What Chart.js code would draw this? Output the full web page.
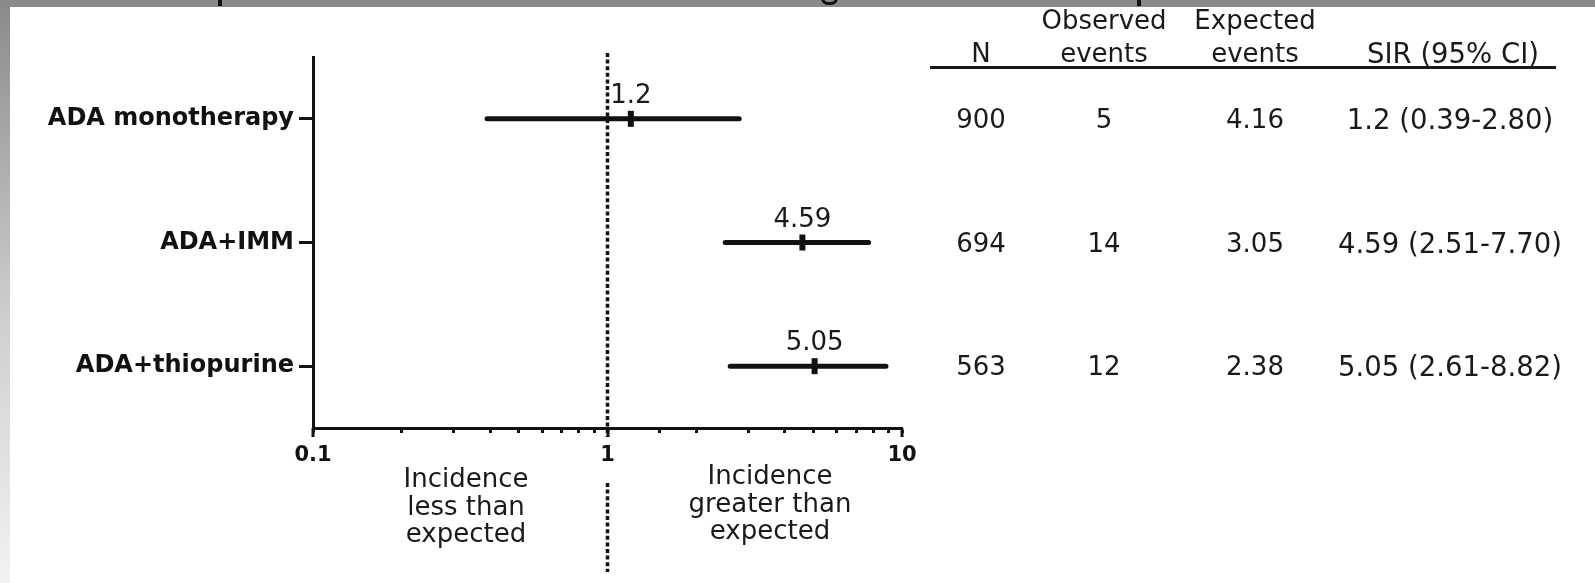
<!DOCTYPE html>
<html>
<head>
<meta charset="utf-8">
<script src="https://cdn.jsdelivr.net/npm/chart.js@4.4.1/dist/chart.umd.min.js"></script>
<style>
html,body{margin:0;padding:0;background:#fff;}
#wrap{position:relative;width:1595px;height:583px;overflow:hidden;background:#fff;font-family:"DejaVu Sans",sans-serif;color:#1a1a1a;}
#c{position:absolute;left:0;top:0;}
#band{position:absolute;left:0;top:0;width:1595px;height:7px;background:#8a8a8a;}
#strip{position:absolute;left:0;top:0;width:10px;height:583px;background:linear-gradient(#8a8a8a,#cfcfcf 55%,#f2f2f2);}
.frag{position:absolute;background:#111;}
.t{position:absolute;font-size:26px;line-height:30px;height:30px;white-space:nowrap;text-align:center;transform:translateX(-50%);}
.t.w{font-size:27.5px;}
#rule{position:absolute;left:930px;top:66px;width:626px;height:3px;background:#1a1a1a;}
</style>
</head>
<body>
<div id="wrap">
  <canvas id="c" width="1595" height="583"></canvas>
  <div id="band"></div>
  <div id="strip"></div>
  <div class="frag" style="left:218px;top:0;width:4px;height:6px;"></div>
  <div class="frag" style="left:1137px;top:0;width:4px;height:6px;"></div>
  <div style="position:absolute;left:821px;top:-6px;width:11px;height:8px;border:3px solid #111;border-top:none;border-radius:0 0 7px 7px;"></div>
  <div id="rule"></div>
  <div id="table"></div>
</div>
<script>
// ---- data ----
const categories = ['ADA monotherapy', 'ADA+IMM', 'ADA+thiopurine'];
const sir = [1.2, 4.59, 5.05];
const ciLow = [0.39, 2.51, 2.61];
const ciHigh = [2.80, 7.70, 8.82];
const sirLabels = ['1.2', '4.59', '5.05'];
const nPatients = ['900', '694', '563'];
const observedEvents = ['5', '14', '12'];
const expectedEvents = ['4.16', '3.05', '2.38'];
const sirCI = ['1.2 (0.39-2.80)', '4.59 (2.51-7.70)', '5.05 (2.61-8.82)'];
const xTickValues = [0.1, 1, 10];
const xTickLabels = ['0.1', '1', '10'];
const xMin = 0.1, xMax = 10, refValue = 1;
const headerLine1 = ['', 'Observed', 'Expected', ''];
const headerLine2 = ['N', 'events', 'events', 'SIR (95% CI)'];
const noteLeft = ['Incidence', 'less than', 'expected'];
const noteRight = ['Incidence', 'greater than', 'expected'];

const INK = '#111';

function majorIndex(v) {
  for (let i = 0; i < xTickValues.length; i++) {
    if (Math.abs(Math.log10(v) - Math.log10(xTickValues[i])) < 1e-6) return i;
  }
  return -1;
}

const datasets = categories.map((c, i) => ({
  type: 'line',
  data: [{x: ciLow[i], y: c}, {x: ciHigh[i], y: c}],
  borderColor: INK,
  borderWidth: 5,
  borderCapStyle: 'round',
  pointRadius: 0,
  pointHoverRadius: 0,
  showLine: true,
  fill: false
}));
datasets.push({
  type: 'scatter',
  data: categories.map((c, i) => ({x: sir[i], y: c})),
  pointStyle: 'line',
  rotation: 90,
  pointRadius: 8,
  pointHoverRadius: 8,
  borderWidth: 6,
  borderColor: INK,
  backgroundColor: INK,
  showLine: false
});

const refLinePlugin = {
  id: 'refLine',
  beforeDatasetsDraw(chart) {
    const ctx = chart.ctx, a = chart.chartArea;
    const x = chart.scales.x.getPixelForValue(refValue);
    ctx.save();
    ctx.strokeStyle = INK;
    ctx.lineWidth = 3.5;
    ctx.setLineDash([4, 2.6]);
    ctx.beginPath();
    ctx.moveTo(x, a.top - 4);
    ctx.lineTo(x, a.bottom + 9);
    ctx.moveTo(x, a.bottom + 55);
    ctx.lineTo(x, a.bottom + 144);
    ctx.stroke();
    ctx.restore();
  }
};

const extrasPlugin = {
  id: 'extras',
  afterDraw(chart) {
    const ctx = chart.ctx, a = chart.chartArea, xs = chart.scales.x;
    ctx.save();
    ctx.strokeStyle = INK;
    ctx.lineWidth = 3;
    xTickValues.forEach(v => {
      const px = Math.round(xs.getPixelForValue(v));
      ctx.beginPath();
      ctx.moveTo(px, a.bottom);
      ctx.lineTo(px, a.bottom + 9);
      ctx.stroke();
    });
    const meta = chart.getDatasetMeta(categories.length);
    ctx.fillStyle = '#1a1a1a';
    ctx.font = '26px "DejaVu Sans"';
    ctx.textAlign = 'center';
    ctx.textBaseline = 'alphabetic';
    meta.data.forEach((pt, i) => {
      ctx.fillText(sirLabels[i], pt.x, pt.y - 16);
    });
    ctx.restore();
  }
};

const chart = new Chart(document.getElementById('c'), {
  type: 'scatter',
  data: {datasets},
  options: {
    responsive: false,
    animation: false,
    events: [],
    layout: {padding: {left: 0, top: 57, right: 693, bottom: 0}},
    plugins: {legend: {display: false}, tooltip: {enabled: false}},
    scales: {
      x: {
        type: 'logarithmic',
        position: 'bottom',
        min: xMin,
        max: xMax,
        border: {display: true, color: INK, width: 3},
        grid: {display: true, drawOnChartArea: false, drawTicks: true, tickLength: 5, tickWidth: 3, tickColor: INK},
        ticks: {
          autoSkip: false,
          maxRotation: 0,
          padding: 10,
          color: INK,
          font: {family: 'DejaVu Sans', weight: 'bold', size: 21},
          callback: (v) => { const k = majorIndex(v); return k >= 0 ? xTickLabels[k] : ''; }
        },
        afterFit: (s) => { s.height = 155; }
      },
      y: {
        type: 'category',
        labels: categories,
        position: 'left',
        offset: true,
        border: {display: true, color: INK, width: 3},
        grid: {display: true, offset: false, drawOnChartArea: false, drawTicks: true, tickLength: 14, tickWidth: 3, tickColor: INK},
        ticks: {padding: 5, color: INK, font: {family: 'DejaVu Sans', weight: 'bold', size: 24}},
        afterFit: (s) => { s.width = 313; }
      }
    }
  },
  plugins: [refLinePlugin, extrasPlugin]
});

// ---- table and notes (real text) ----
const table = document.getElementById('table');
function addText(str, cx, cy, cls) {
  const d = document.createElement('div');
  d.className = 't' + (cls ? ' ' + cls : '');
  d.textContent = str;
  d.style.left = cx + 'px';
  d.style.top = (cy - 15) + 'px';
  table.appendChild(d);
}
const colX = [981, 1104, 1255, 1453];
headerLine1.forEach((h, j) => { if (h) addText(h, colX[j], 20); });
headerLine2.forEach((h, j) => { if (h) addText(h, colX[j], 53, j === 3 ? 'w' : ''); });
const ys = chart.scales.y;
categories.forEach((c, i) => {
  const cy = ys.getPixelForValue(i);
  addText(nPatients[i], colX[0], cy);
  addText(observedEvents[i], colX[1], cy);
  addText(expectedEvents[i], colX[2], cy);
  addText(sirCI[i], 1450, cy, 'w');
});
const bottom = chart.chartArea.bottom;
noteLeft.forEach((s, k) => addText(s, 466, bottom + 50 + k * 27.5));
noteRight.forEach((s, k) => addText(s, 770, bottom + 47 + k * 27.5));
</script>
</body>
</html>
